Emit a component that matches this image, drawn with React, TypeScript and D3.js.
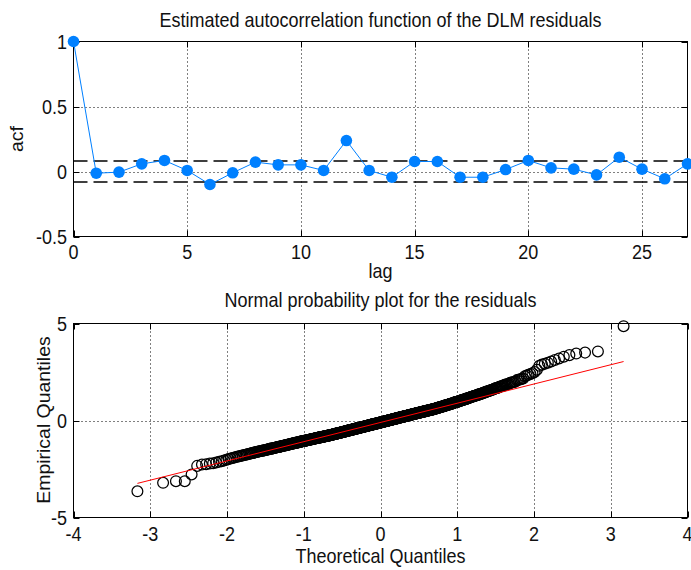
import React from 'react';
import * as d3 from 'd3';

// ---- data ----
const acfLags = [0, 1, 2, 3, 4, 5, 6, 7, 8, 9, 10, 11, 12, 13, 14, 15, 16, 17, 18, 19, 20, 21, 22, 23, 24, 25, 26, 27];
const acfValues = [1.0, -0.013, -0.005, 0.059, 0.085, 0.008, -0.1, -0.01, 0.072, 0.051, 0.051, 0.008, 0.238, 0.008,
  -0.044, 0.077, 0.077, -0.044, -0.044, 0.015, 0.085, 0.028, 0.018, -0.026, 0.11, 0.018, -0.056, 0.059];
const acfBound = 0.081;
const acfXTicks = [0, 5, 10, 15, 20, 25];
const acfYTicks = [-0.5, 0, 0.5, 1];

const qqXTicks = [-4, -3, -2, -1, 0, 1, 2, 3, 4];
const qqYTicks = [-5, 0, 5];

// DLM residuals (650 values, listed sorted)
const residuals = [
  -3.65, -3.21, -3.13, -3.13, -2.78, -2.34, -2.27, -2.25, -2.22, -2.20, -2.17, -2.13, -2.10, -2.06, -2.02,
  -1.99, -1.96, -1.93, -1.91, -1.88, -1.86, -1.84, -1.82, -1.80, -1.78, -1.77, -1.75, -1.73, -1.71, -1.70,
  -1.68, -1.67, -1.65, -1.64, -1.62, -1.61, -1.60, -1.58, -1.57, -1.56, -1.56, -1.54, -1.53, -1.52, -1.51,
  -1.50, -1.49, -1.47, -1.46, -1.45, -1.45, -1.44, -1.43, -1.42, -1.41, -1.40, -1.39, -1.38, -1.37, -1.36,
  -1.36, -1.35, -1.34, -1.33, -1.32, -1.31, -1.30, -1.30, -1.29, -1.28, -1.28, -1.27, -1.26, -1.25, -1.24,
  -1.24, -1.23, -1.22, -1.21, -1.20, -1.20, -1.19, -1.19, -1.18, -1.17, -1.16, -1.16, -1.15, -1.14, -1.14,
  -1.13, -1.13, -1.12, -1.11, -1.11, -1.10, -1.09, -1.09, -1.08, -1.07,
  -1.07, -1.06, -1.06, -1.05, -1.05, -1.04, -1.04, -1.03, -1.03, -1.02,
  -1.02, -1.01, -1.01, -1.00, -0.99, -0.99, -0.98, -0.98, -0.97, -0.97,
  -0.96, -0.96, -0.95, -0.95, -0.94, -0.94, -0.93, -0.93, -0.92, -0.92,
  -0.91, -0.91, -0.90, -0.90, -0.89, -0.89, -0.88, -0.88, -0.87, -0.87,
  -0.87, -0.86, -0.86, -0.85, -0.85, -0.84, -0.84, -0.84, -0.83, -0.83,
  -0.82, -0.82, -0.81, -0.81, -0.81, -0.80, -0.80, -0.79, -0.79, -0.79,
  -0.78, -0.78, -0.77, -0.77, -0.76, -0.76, -0.75, -0.75, -0.75, -0.74,
  -0.74, -0.73, -0.73, -0.72, -0.72, -0.71, -0.71, -0.70, -0.70, -0.69,
  -0.69, -0.69, -0.68, -0.68, -0.67, -0.67, -0.66, -0.66, -0.65, -0.65,
  -0.65, -0.64, -0.64, -0.63, -0.63, -0.62, -0.62, -0.62, -0.61, -0.61,
  -0.60, -0.60, -0.59, -0.59, -0.58, -0.58, -0.58, -0.57, -0.57, -0.56, -0.56, -0.55, -0.55, -0.55, -0.54, -0.54, -0.53, -0.53, -0.52, -0.52,
  -0.51, -0.51, -0.51, -0.50, -0.50, -0.49, -0.49, -0.49, -0.48, -0.48, -0.47, -0.47, -0.46, -0.46, -0.46, -0.45, -0.45, -0.44, -0.44, -0.44,
  -0.43, -0.43, -0.42, -0.42, -0.42, -0.41, -0.41, -0.40, -0.40, -0.40, -0.39, -0.39, -0.38, -0.38, -0.38, -0.37, -0.37, -0.36, -0.36, -0.36,
  -0.35, -0.35, -0.34, -0.34, -0.34, -0.33, -0.33, -0.32, -0.32, -0.32, -0.31, -0.31, -0.30, -0.30, -0.30, -0.29, -0.29, -0.28, -0.28, -0.28,
  -0.27, -0.27, -0.26, -0.26, -0.26, -0.25, -0.25, -0.24, -0.24, -0.24, -0.23, -0.23, -0.22, -0.22, -0.22, -0.21, -0.21, -0.20, -0.20, -0.20,
  -0.19, -0.19, -0.19, -0.18, -0.18, -0.18, -0.17, -0.17, -0.16, -0.16, -0.16, -0.15, -0.15, -0.15, -0.14, -0.14, -0.13, -0.13, -0.13,
  -0.12, -0.12, -0.12, -0.11, -0.11, -0.10,
  -0.10, -0.09, -0.09, -0.09, -0.08, -0.08, -0.07, -0.07, -0.07, -0.06, -0.06, -0.06, -0.05, -0.05, -0.04, -0.04, -0.04, -0.03, -0.03,
  -0.03, -0.02, -0.02, -0.01, -0.01, -0.01,
  0.00, 0.00, 0.01, 0.01, 0.01, 0.02, 0.02, 0.03, 0.03, 0.03, 0.04, 0.04, 0.05, 0.05, 0.05, 0.06, 0.06, 0.07, 0.07, 0.07,
  0.08, 0.08, 0.09, 0.09, 0.09, 0.10, 0.10, 0.11, 0.11, 0.11, 0.12, 0.12, 0.13, 0.13, 0.13, 0.14, 0.14, 0.15, 0.15, 0.15,
  0.16, 0.16, 0.17, 0.17, 0.17, 0.18, 0.18, 0.19, 0.19, 0.19, 0.20, 0.20, 0.21, 0.21, 0.21, 0.22, 0.22, 0.23, 0.23, 0.23,
  0.24, 0.24, 0.25, 0.25, 0.25, 0.26, 0.26, 0.27, 0.27, 0.28, 0.28, 0.28, 0.29, 0.29, 0.30, 0.30, 0.30, 0.31, 0.31, 0.32,
  0.32, 0.33, 0.33, 0.34, 0.34, 0.34, 0.35, 0.35, 0.36, 0.36, 0.36, 0.37, 0.37, 0.38, 0.38, 0.38, 0.39, 0.39, 0.40, 0.40,
  0.41, 0.41, 0.41, 0.42, 0.42, 0.43, 0.43, 0.43, 0.44, 0.44,
  0.45, 0.45, 0.46, 0.46, 0.47, 0.47, 0.47, 0.48, 0.48, 0.49,
  0.49, 0.50, 0.50, 0.51, 0.51, 0.51, 0.52, 0.52, 0.53, 0.53,
  0.54, 0.54, 0.55, 0.55, 0.55, 0.56, 0.56, 0.57, 0.57, 0.58,
  0.59, 0.59, 0.60, 0.60, 0.61, 0.61, 0.62, 0.62, 0.63, 0.63,
  0.65, 0.65, 0.66, 0.66, 0.67, 0.67, 0.68, 0.68, 0.69, 0.69,
  0.71, 0.71, 0.72, 0.72, 0.73, 0.73, 0.74, 0.74, 0.75, 0.76,
  0.78, 0.78, 0.79, 0.79, 0.80, 0.80, 0.81, 0.81, 0.82, 0.83,
  0.85, 0.85, 0.86, 0.86, 0.87, 0.88, 0.88, 0.89, 0.89, 0.90,
  0.93, 0.93, 0.94, 0.95, 0.95, 0.96, 0.96, 0.97, 0.98, 0.98,
  1.00, 1.01, 1.02, 1.02, 1.03, 1.05, 1.05, 1.06, 1.07, 1.07,
  1.09, 1.10, 1.10, 1.11, 1.12, 1.14, 1.14, 1.15, 1.16, 1.17,
  1.19, 1.20, 1.21, 1.22, 1.22, 1.24, 1.25, 1.26, 1.27, 1.28,
  1.29, 1.30, 1.31, 1.32, 1.33, 1.36, 1.37, 1.37, 1.38, 1.39,
  1.42, 1.43, 1.44, 1.45, 1.46, 1.49, 1.50, 1.51, 1.52, 1.53,
  1.56, 1.57, 1.58, 1.60, 1.61, 1.65, 1.66, 1.67, 1.68, 1.70,
  1.74, 1.75, 1.76, 1.78, 1.79, 1.84, 1.85, 1.86, 1.88, 1.90,
  1.94, 1.96, 1.97, 1.99, 2.01, 2.08, 2.10, 2.12, 2.14, 2.16,
  2.28, 2.32, 2.36, 2.40, 2.44,
  2.50, 2.62, 2.82, 2.88, 2.93, 2.98, 3.04, 3.12, 3.20, 3.29, 3.37, 3.45, 3.50, 3.56, 4.86,
];

// inverse normal cdf (Acklam) for the theoretical quantiles
function normInv(p: number): number {
  const a = [-39.69683028665376, 220.9460984245205, -275.9285104469687, 138.357751867269, -30.66479806614716, 2.506628277459239];
  const b = [-54.47609879822406, 161.5858368580409, -155.6989798598866, 66.80131188771972, -13.28068155288572];
  const c = [-0.007784894002430293, -0.3223964580411365, -2.400758277161838, -2.549671010422803, 4.374664141464968, 2.938163982698783];
  const d = [0.007784695709041462, 0.3224671290700398, 2.445134137142996, 3.754408661907416];
  const pl = 0.02425;
  if (p < pl) {
    const q = Math.sqrt(-2 * Math.log(p));
    return (((((c[0] * q + c[1]) * q + c[2]) * q + c[3]) * q + c[4]) * q + c[5]) / ((((d[0] * q + d[1]) * q + d[2]) * q + d[3]) * q + 1);
  }
  if (p <= 1 - pl) {
    const q = p - 0.5, r = q * q;
    return (((((a[0] * r + a[1]) * r + a[2]) * r + a[3]) * r + a[4]) * r + a[5]) * q / (((((b[0] * r + b[1]) * r + b[2]) * r + b[3]) * r + b[4]) * r + 1);
  }
  const q = Math.sqrt(-2 * Math.log(1 - p));
  return -(((((c[0] * q + c[1]) * q + c[2]) * q + c[3]) * q + c[4]) * q + c[5]) / ((((d[0] * q + d[1]) * q + d[2]) * q + d[3]) * q + 1);
}

const W = 691, H = 570;
const left = 73.5, right = 687.5;
const FONT = '"Liberation Sans", Arial, Helvetica, sans-serif';
const BLUE = '#0080ff';
const SY = 1.08; // the screenshot's text is a little taller than wide

const Label = ({ x, y, anchor = 'middle', rot = false, dy = 0, size = 18, children }: any) => (
  <text
    transform={rot ? `translate(${x},${y}) rotate(-90) scale(${SY},1)` : `translate(${x},${y}) scale(1,${SY})`}
    textAnchor={anchor}
    dy={dy}
    fontSize={size}
    fontFamily={FONT}
    fill="#111"
  >{children}</text>
);

const Frame = ({ x, y, xTicks, yTicks, top, bottom }: any) => {
  const [x0, x1] = x.domain();
  const [y0, y1] = y.domain();
  const tl = 6;
  return (
    <g>
      {/* grid */}
      {xTicks.filter((t: number) => t > x0 && t < x1).map((t: number) => (
        <line key={'gx' + t} x1={Math.round(x(t)) + 0.5} x2={Math.round(x(t)) + 0.5} y1={top} y2={bottom}
          stroke="#000" strokeDasharray="1,3" />
      ))}
      {yTicks.filter((t: number) => t > y0 && t < y1).map((t: number) => (
        <line key={'gy' + t} x1={left} x2={right} y1={Math.round(y(t)) + 0.5} y2={Math.round(y(t)) + 0.5}
          stroke="#000" strokeDasharray="1,3" />
      ))}
      {/* ticks, inside on all sides */}
      {xTicks.map((t: number) => (
        <g key={'tx' + t}>
          <line x1={Math.round(x(t)) + 0.5} x2={Math.round(x(t)) + 0.5} y1={bottom} y2={bottom - tl} stroke="#000" />
          <line x1={Math.round(x(t)) + 0.5} x2={Math.round(x(t)) + 0.5} y1={top} y2={top + tl} stroke="#000" />
        </g>
      ))}
      {yTicks.map((t: number) => (
        <g key={'ty' + t}>
          <line x1={left} x2={left + tl} y1={Math.round(y(t)) + 0.5} y2={Math.round(y(t)) + 0.5} stroke="#000" />
          <line x1={right} x2={right - tl} y1={Math.round(y(t)) + 0.5} y2={Math.round(y(t)) + 0.5} stroke="#000" />
        </g>
      ))}
      <rect x={left} y={top} width={right - left} height={bottom - top} fill="none" stroke="#000" />
      {/* tick labels */}
      {yTicks.map((t: number) => (
        <Label key={'ly' + t} x={67} y={y(t)} anchor="end" dy="0.36em">{String(t)}</Label>
      ))}
    </g>
  );
};

export default function App() {
  // acf panel
  const top1 = 41.5, bot1 = 236.5;
  const x1 = d3.scaleLinear().domain([0, 27]).range([left, right]);
  const y1 = d3.scaleLinear().domain([-0.5, 1]).range([bot1, top1]);
  const acfPts = acfLags.map((l, i) => ({ lag: l, v: acfValues[i] }));
  const acfLine = d3.line<any>().x(d => x1(d.lag)).y(d => y1(d.v));

  // normal probability panel
  const top2 = 323.5, bot2 = 517.5;
  const x2 = d3.scaleLinear().domain([-4, 4]).range([left, right]);
  const y2 = d3.scaleLinear().domain([-5, 5]).range([bot2, top2]);
  const sorted = residuals.slice().sort(d3.ascending);
  const n = sorted.length;
  const qq = sorted.map((v, i) => ({ z: normInv((i + 0.5) / n), v }));
  const q1 = d3.quantile(sorted, 0.25) as number;
  const q3 = d3.quantile(sorted, 0.75) as number;
  const z1 = normInv(0.25), z3 = normInv(0.75);
  const slope = (q3 - q1) / (z3 - z1);
  const icpt = q1 - slope * z1;
  const zMin = qq[0].z, zMax = qq[n - 1].z;

  return (
    <svg width={W} height={H} style={{ position: 'absolute', left: 0, top: 0, background: '#fff' }}>
      <rect width={W} height={H} fill="#fff" />

      {/* ---- top: acf ---- */}
      <Frame x={x1} y={y1} xTicks={acfXTicks} yTicks={acfYTicks} top={top1} bottom={bot1} />
      {acfXTicks.map(t => (
        <Label key={'lx1' + t} x={x1(t)} y={259}>{String(t)}</Label>
      ))}
      {[acfBound, -acfBound].map((b, i) => (
        <line key={'cb' + i} x1={left} x2={right} y1={y1(b)} y2={y1(b)} stroke="#000" strokeWidth={1.6}
          strokeDasharray="14,6" />
      ))}
      <path d={acfLine(acfPts) as string} fill="none" stroke={BLUE} strokeWidth={1} />
      {acfPts.map(d => (
        <circle key={'m' + d.lag} cx={x1(d.lag)} cy={y1(d.v)} r={5.8} fill={BLUE} />
      ))}
      <Label x={380.5} y={26.5}>Estimated autocorrelation function of the DLM residuals</Label>
      <Label x={380.5} y={277.5}>lag</Label>
      <Label x={23} y={139} rot>acf</Label>

      {/* ---- bottom: normal probability plot ---- */}
      <Frame x={x2} y={y2} xTicks={qqXTicks} yTicks={qqYTicks} top={top2} bottom={bot2} />
      {qqXTicks.map(t => (
        <Label key={'lx2' + t} x={x2(t)} y={541}>{String(t)}</Label>
      ))}
      {qq.map((d, i) => (
        <circle key={'q' + i} cx={x2(d.z)} cy={y2(d.v)} r={5.4} fill="none" stroke="#000" strokeWidth={1.25} />
      ))}
      <line x1={x2(zMin)} y1={y2(icpt + slope * zMin)} x2={x2(zMax)} y2={y2(icpt + slope * zMax)}
        stroke="#ff0000" strokeWidth={1} />
      <Label x={380.5} y={306.5}>Normal probability plot for the residuals</Label>
      <Label x={380.5} y={562.5}>Theoretical Quantiles</Label>
      <Label x={50} y={420} rot>Empirical Quantiles</Label>
    </svg>
  );
}
